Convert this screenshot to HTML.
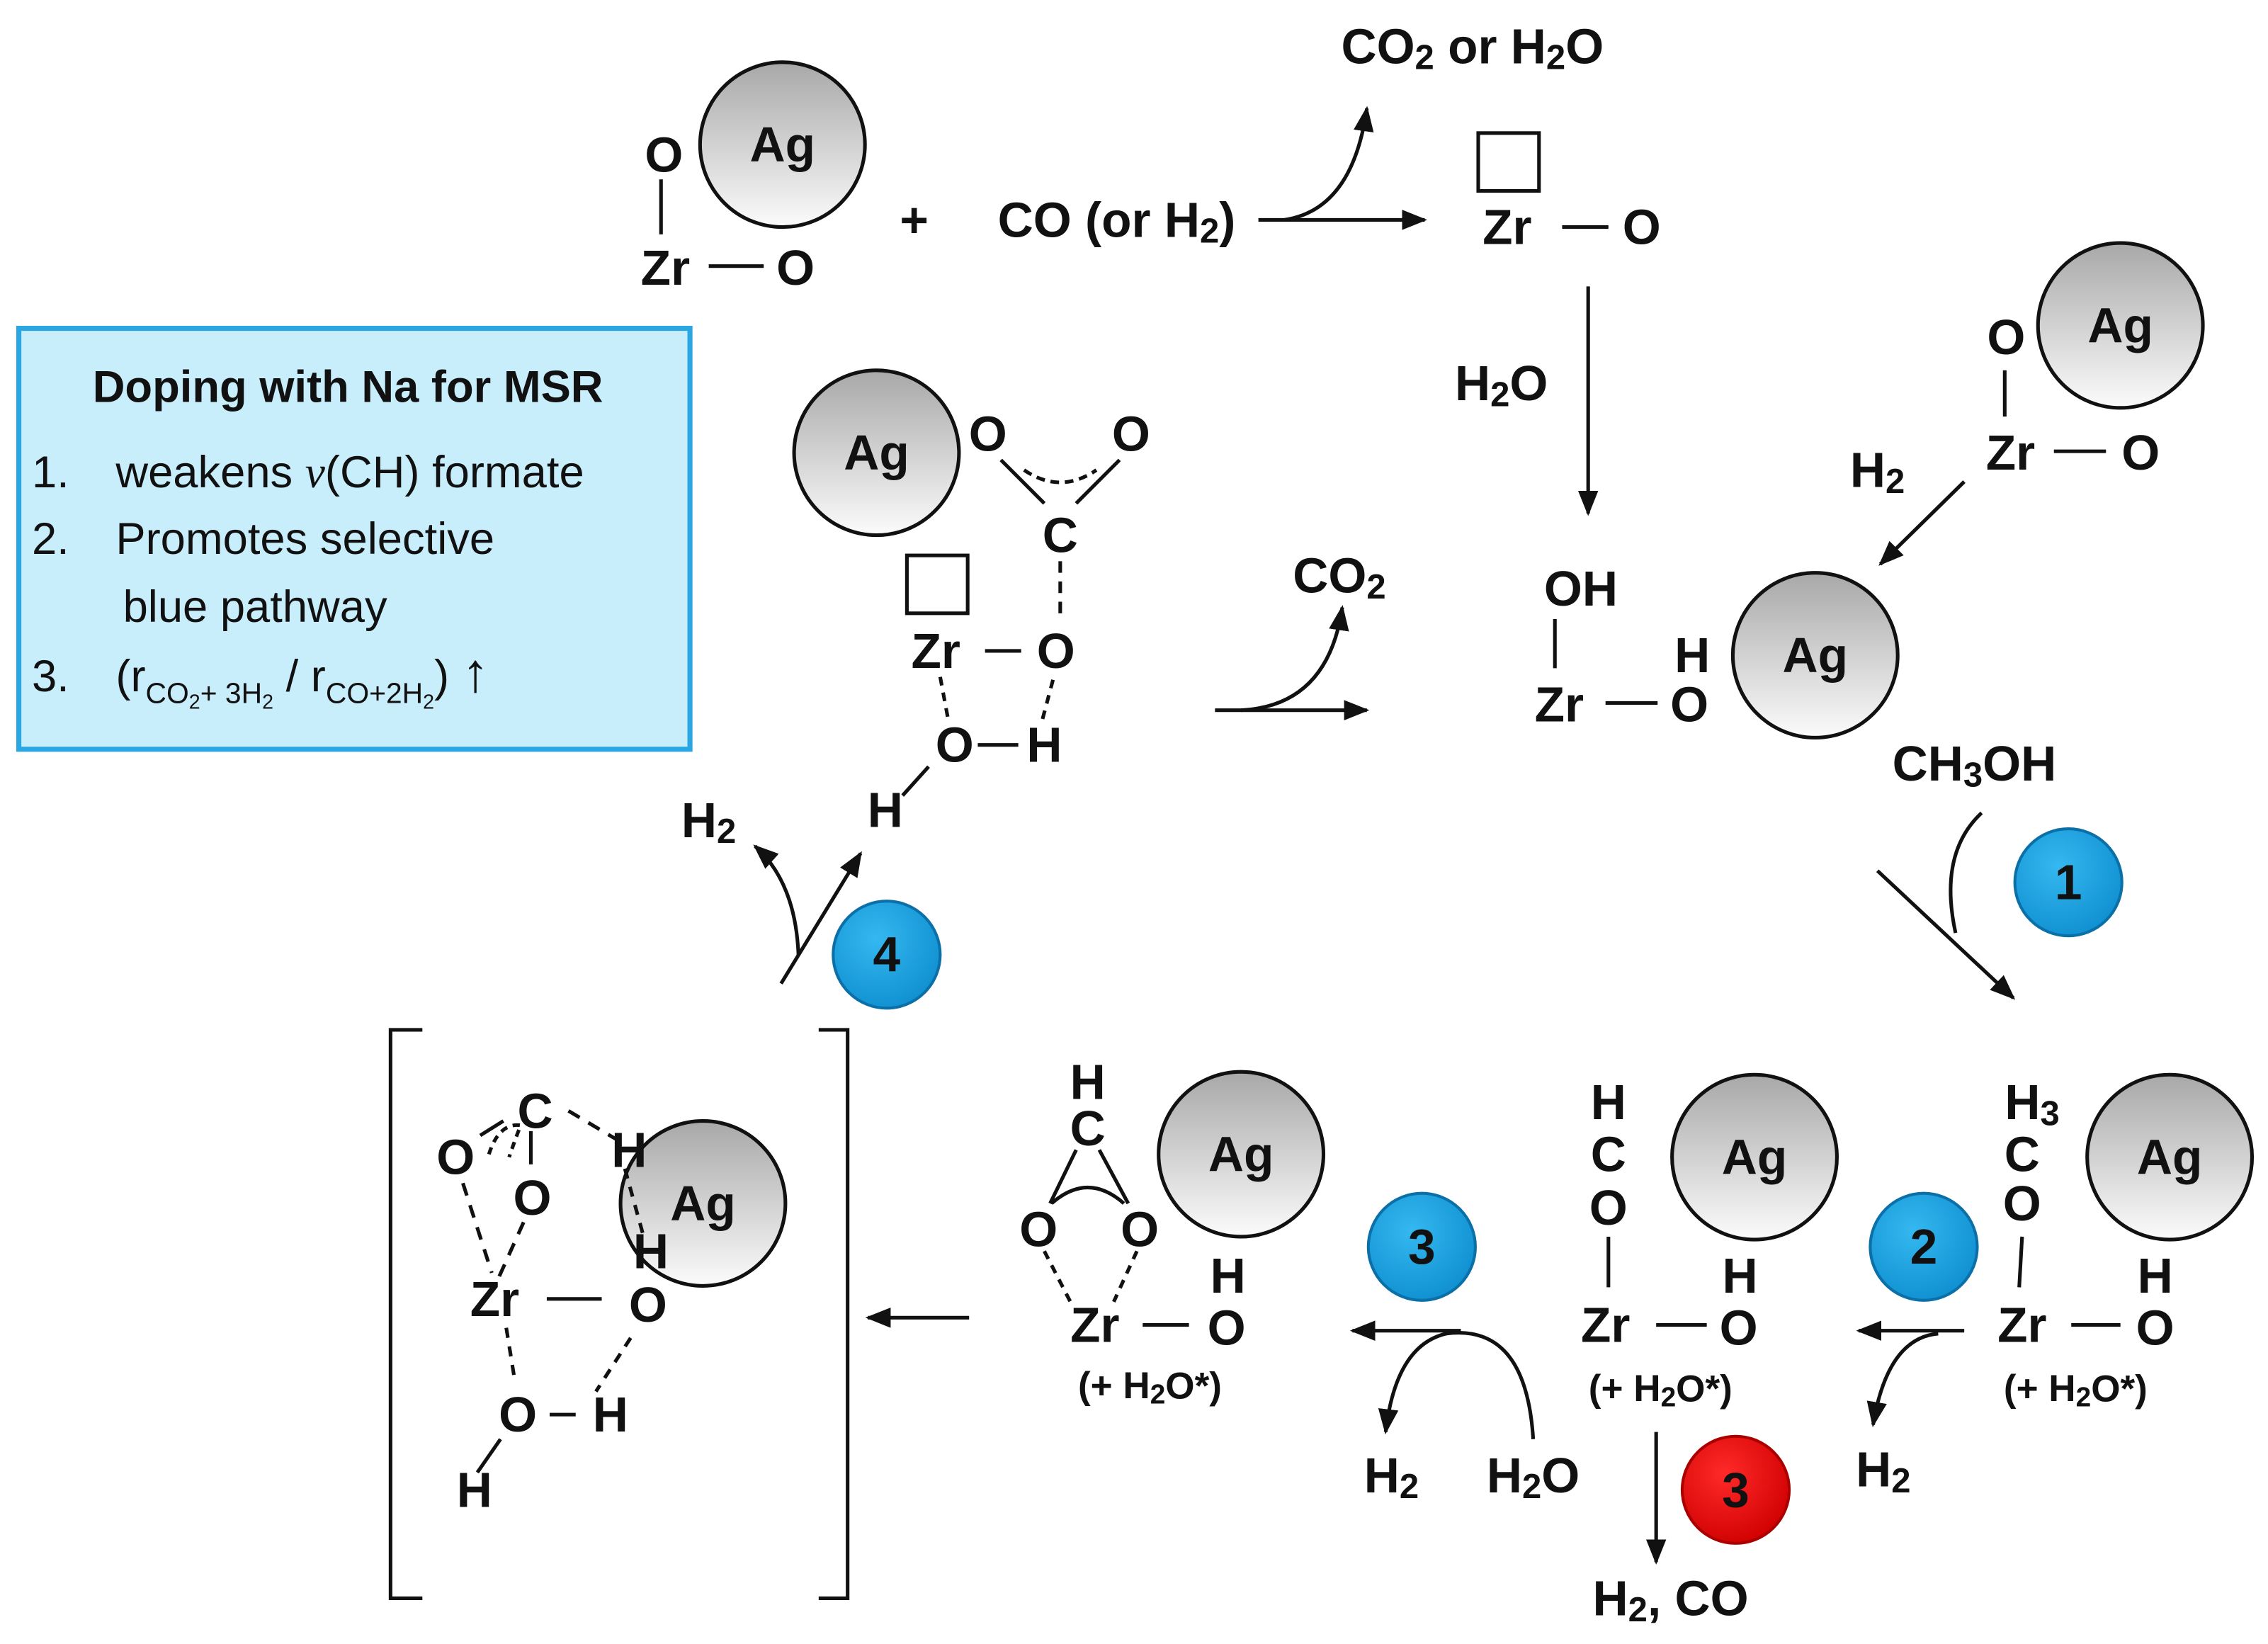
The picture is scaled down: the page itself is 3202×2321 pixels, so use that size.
<!DOCTYPE html>
<html><head><meta charset="utf-8"><style>
html,body{margin:0;padding:0;background:#fff;}
svg{display:block;}
text{font-family:"Liberation Sans",sans-serif;font-weight:bold;fill:#111;}
.t{font-size:34px;text-anchor:middle;dominant-baseline:central;}
.s{font-size:30px;text-anchor:middle;dominant-baseline:central;}
.b{font-family:"Liberation Sans",sans-serif;font-weight:normal;font-size:31px;fill:#111;}
</style></head><body>
<svg width="3202" height="2321" viewBox="0 0 1568 1136.6" xmlns="http://www.w3.org/2000/svg">
<defs>
<linearGradient id="ag" x1="0" y1="0" x2="0" y2="1"><stop offset="0" stop-color="#a8a8a8"/><stop offset="1" stop-color="#fbfbfb"/></linearGradient>
<radialGradient id="bl" cx="0.4" cy="0.35" r="0.7"><stop offset="0" stop-color="#35b8f0"/><stop offset="1" stop-color="#0f8fd0"/></radialGradient>
<radialGradient id="rd" cx="0.4" cy="0.35" r="0.7"><stop offset="0" stop-color="#ff2a2a"/><stop offset="1" stop-color="#d00000"/></radialGradient>
<marker id="ah" viewBox="0 0 10 10" refX="9" refY="5" markerWidth="7" markerHeight="7" orient="auto-start-reverse"><path d="M0,1 L10,5 L0,9 z" fill="#111"/></marker>
</defs>
<g stroke="#111" stroke-width="2.5" fill="none">
<circle cx="541" cy="100" r="57" fill="url(#ag)" stroke-width="2.5"/>
<line x1="457" y1="124" x2="457" y2="162"/>
<line x1="490" y1="184" x2="528" y2="184"/>
<line x1="870" y1="152" x2="985" y2="152" marker-end="url(#ah)"/>
<path d="M888,152 Q935,145 945,75" marker-end="url(#ah)"/>
<rect x="1022" y="92" width="42" height="40"/>
<line x1="1080" y1="157" x2="1112" y2="157"/>
<line x1="1098" y1="198" x2="1098" y2="355" marker-end="url(#ah)"/>
<circle cx="1466" cy="225" r="57" fill="url(#ag)"/>
<line x1="1386" y1="256" x2="1386" y2="288"/>
<line x1="1420" y1="312" x2="1456" y2="312"/>
<line x1="1358" y1="333" x2="1300" y2="390" marker-end="url(#ah)"/>
<circle cx="1255" cy="453" r="57" fill="url(#ag)"/>
<line x1="1075" y1="428" x2="1075" y2="462"/>
<line x1="1110" y1="486" x2="1146" y2="486"/>
<path d="M1370,562 Q1340,590 1352,645"/>
<line x1="1298" y1="602" x2="1392" y2="690" marker-end="url(#ah)"/>
<circle cx="606" cy="313" r="57" fill="url(#ag)"/>
<rect x="627" y="384" width="42" height="40"/>
<line x1="692" y1="318" x2="722" y2="348"/>
<line x1="774" y1="318" x2="744" y2="348"/>
<path d="M708,325 Q733,342 758,325" stroke-dasharray="6,4"/>
<line x1="733" y1="388" x2="733" y2="430" stroke-dasharray="8,6"/>
<line x1="681" y1="450" x2="706" y2="450"/>
<line x1="650" y1="468" x2="656" y2="500" stroke-dasharray="6,5"/>
<line x1="728" y1="470" x2="720" y2="500" stroke-dasharray="6,5"/>
<line x1="676" y1="515" x2="704" y2="515"/>
<line x1="642" y1="530" x2="624" y2="550"/>
<line x1="840" y1="491" x2="945" y2="491" marker-end="url(#ah)"/>
<path d="M858,491 Q918,488 928,420" marker-end="url(#ah)"/>
<path d="M540,680 L595,590" marker-end="url(#ah)"/>
<path d="M552,660 Q550,610 522,585" marker-end="url(#ah)"/>
<path d="M292,712 L270,712 L270,1105 L292,1105"/>
<path d="M566,712 L586,712 L586,1105 L566,1105"/>
<circle cx="486" cy="832" r="57" fill="url(#ag)"/>
<line x1="332" y1="785" x2="348" y2="775"/>
<path d="M338,798 Q345,776 360,778 Q356,788 352,800" stroke-dasharray="5,4"/>
<line x1="367" y1="782" x2="367" y2="805"/>
<line x1="393" y1="768" x2="430" y2="790" stroke-dasharray="9,7"/>
<line x1="320" y1="818" x2="340" y2="880" stroke-dasharray="9,7"/>
<line x1="362" y1="845" x2="344" y2="885" stroke-dasharray="9,7"/>
<line x1="378" y1="898" x2="416" y2="898"/>
<line x1="432" y1="808" x2="445" y2="855" stroke-dasharray="7,6"/>
<line x1="350" y1="918" x2="356" y2="955" stroke-dasharray="7,6"/>
<line x1="436" y1="925" x2="412" y2="962" stroke-dasharray="7,6"/>
<line x1="380" y1="978" x2="398" y2="978"/>
<line x1="346" y1="995" x2="330" y2="1018"/>
<line x1="670" y1="911" x2="600" y2="911" marker-end="url(#ah)"/>
<circle cx="858" cy="798" r="57" fill="url(#ag)"/>
<path d="M727,832 Q752,810 777,832" />
<line x1="744" y1="795" x2="726" y2="832"/>
<line x1="760" y1="795" x2="780" y2="832"/>
<line x1="722" y1="865" x2="740" y2="900" stroke-dasharray="6,5"/>
<line x1="786" y1="865" x2="770" y2="900" stroke-dasharray="6,5"/>
<line x1="790" y1="916" x2="822" y2="916"/>
<line x1="1010" y1="920" x2="935" y2="920" marker-end="url(#ah)"/>
<path d="M1060,995 Q1055,915 1000,922 Q965,930 958,990" marker-end="url(#ah)"/>
<circle cx="1213" cy="800" r="57" fill="url(#ag)"/>
<line x1="1112" y1="855" x2="1112" y2="890"/>
<line x1="1145" y1="916" x2="1180" y2="916"/>
<line x1="1145" y1="990" x2="1145" y2="1080" marker-end="url(#ah)"/>
<circle cx="1500" cy="800" r="57" fill="url(#ag)"/>
<line x1="1398" y1="855" x2="1396" y2="890"/>
<line x1="1432" y1="916" x2="1466" y2="916"/>
<line x1="1358" y1="920" x2="1285" y2="920" marker-end="url(#ah)"/>
<path d="M1340,922 Q1305,925 1295,985" marker-end="url(#ah)"/>
</g>
<rect x="13" y="227" width="464" height="291" fill="#c8eefb" stroke="#2aa7e2" stroke-width="3.5"/>
<text class="b" x="64" y="278" style="font-weight:bold">Doping with Na for MSR</text>
<text class="b" x="22" y="337">1.</text><text class="b" x="80" y="337">weakens <tspan font-family="Liberation Serif" font-style="italic">ν</tspan>(CH) formate</text>
<text class="b" x="22" y="383">2.</text><text class="b" x="80" y="383">Promotes selective</text>
<text class="b" x="85" y="430">blue pathway</text>
<text class="b" x="22" y="478">3.</text><text class="b" x="80" y="478">(r<tspan font-size="20" dy="8">CO</tspan><tspan font-size="14" dy="4">2</tspan><tspan font-size="20" dy="-4">+ 3H</tspan><tspan font-size="14" dy="4">2</tspan><tspan dy="-12"> / r</tspan><tspan font-size="20" dy="8">CO+2H</tspan><tspan font-size="14" dy="4">2</tspan><tspan dy="-12">) </tspan><tspan font-size="38">↑</tspan></text>
<text class="t" x="459" y="107">O</text><text class="t" x="541" y="100">Ag</text>
<text class="t" x="460" y="185">Zr</text><text class="t" x="550" y="185">O</text>
<text class="t" x="632" y="152">+</text>
<text class="t" x="772" y="152">CO (or H<tspan font-size="24" dy="8">2</tspan><tspan dy="-8">)</tspan></text>
<text class="t" x="1018" y="32">CO<tspan font-size="24" dy="8">2</tspan><tspan dy="-8"> or H</tspan><tspan font-size="24" dy="8">2</tspan><tspan dy="-8">O</tspan></text>
<text class="t" x="1042" y="157">Zr</text><text class="t" x="1135" y="157">O</text>
<text class="t" x="1038" y="265">H<tspan font-size="24" dy="8">2</tspan><tspan dy="-8">O</tspan></text>
<text class="t" x="1387" y="233">O</text><text class="t" x="1466" y="225">Ag</text>
<text class="t" x="1390" y="313">Zr</text><text class="t" x="1480" y="313">O</text>
<text class="t" x="1298" y="325">H<tspan font-size="24" dy="8">2</tspan></text>
<text class="t" x="1093" y="407">OH</text>
<text class="t" x="1078" y="487">Zr</text><text class="t" x="1168" y="487">O</text><text class="t" x="1170" y="453">H</text>
<text class="t" x="1255" y="453">Ag</text>
<text class="t" x="1365" y="528">CH<tspan font-size="24" dy="8">3</tspan><tspan dy="-8">OH</tspan></text>
<circle cx="1430" cy="610" r="37" fill="url(#bl)" stroke="#0b6fa8" stroke-width="2"/><text class="t" x="1430" y="610">1</text>
<text class="t" x="606" y="313">Ag</text>
<text class="t" x="683" y="300">O</text><text class="t" x="782" y="300">O</text><text class="t" x="733" y="370">C</text>
<text class="t" x="647" y="450">Zr</text><text class="t" x="730" y="450">O</text>
<text class="t" x="660" y="515">O</text><text class="t" x="722" y="515">H</text><text class="t" x="612" y="560">H</text>
<text class="t" x="926" y="398">CO<tspan font-size="24" dy="8">2</tspan></text>
<text class="t" x="490" y="567">H<tspan font-size="24" dy="8">2</tspan></text>
<circle cx="613" cy="660" r="37" fill="url(#bl)" stroke="#0b6fa8" stroke-width="2"/><text class="t" x="613" y="660">4</text>
<text class="t" x="370" y="768">C</text><text class="t" x="315" y="800">O</text><text class="t" x="368" y="828">O</text>
<text class="t" x="435" y="795">H</text><text class="t" x="486" y="832">Ag</text><text class="t" x="450" y="865">H</text>
<text class="t" x="342" y="898">Zr</text><text class="t" x="448" y="902">O</text>
<text class="t" x="358" y="978">O</text><text class="t" x="422" y="978">H</text><text class="t" x="328" y="1030">H</text>
<text class="t" x="752" y="748">H</text><text class="t" x="752" y="780">C</text>
<text class="t" x="718" y="850">O</text><text class="t" x="788" y="850">O</text>
<text class="t" x="858" y="798">Ag</text><text class="t" x="849" y="882">H</text>
<text class="t" x="757" y="916">Zr</text><text class="t" x="848" y="918">O</text>
<text class="s" x="795" y="958" style="font-size:26px">(+ H<tspan font-size="19" dy="6">2</tspan><tspan dy="-6">O*)</tspan></text>
<circle cx="983" cy="862" r="37" fill="url(#bl)" stroke="#0b6fa8" stroke-width="2"/><text class="t" x="983" y="862">3</text>
<text class="t" x="962" y="1020">H<tspan font-size="24" dy="8">2</tspan></text>
<text class="t" x="1060" y="1020">H<tspan font-size="24" dy="8">2</tspan><tspan dy="-8">O</tspan></text>
<text class="t" x="1112" y="762">H</text><text class="t" x="1112" y="798">C</text><text class="t" x="1112" y="835">O</text>
<text class="t" x="1213" y="800">Ag</text><text class="t" x="1203" y="882">H</text>
<text class="t" x="1110" y="916">Zr</text><text class="t" x="1202" y="918">O</text>
<text class="s" x="1148" y="960" style="font-size:26px">(+ H<tspan font-size="19" dy="6">2</tspan><tspan dy="-6">O*)</tspan></text>
<circle cx="1200" cy="1030" r="37" fill="url(#rd)" stroke="#a00" stroke-width="2"/><text class="t" x="1200" y="1030">3</text>
<text class="t" x="1155" y="1105">H<tspan font-size="24" dy="8">2</tspan><tspan dy="-8">, CO</tspan></text>
<circle cx="1330" cy="862" r="37" fill="url(#bl)" stroke="#0b6fa8" stroke-width="2"/><text class="t" x="1330" y="862">2</text>
<text class="t" x="1405" y="762">H<tspan font-size="24" dy="8">3</tspan></text><text class="t" x="1398" y="798">C</text><text class="t" x="1398" y="832">O</text>
<text class="t" x="1500" y="800">Ag</text><text class="t" x="1490" y="882">H</text>
<text class="t" x="1398" y="916">Zr</text><text class="t" x="1490" y="918">O</text>
<text class="s" x="1435" y="960" style="font-size:26px">(+ H<tspan font-size="19" dy="6">2</tspan><tspan dy="-6">O*)</tspan></text>
<text class="t" x="1302" y="1016">H<tspan font-size="24" dy="8">2</tspan></text>
</svg>
</body></html>
